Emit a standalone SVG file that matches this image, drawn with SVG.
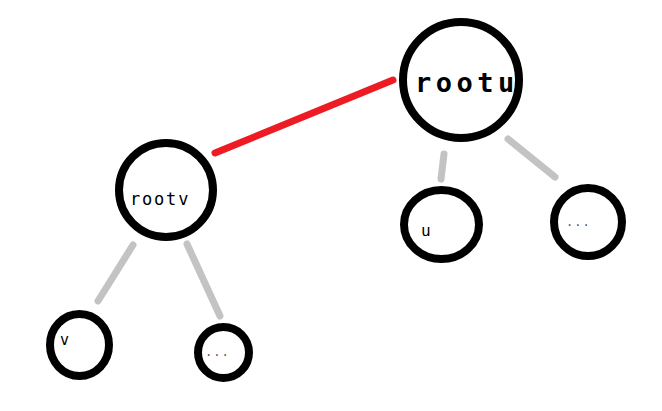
<svg xmlns="http://www.w3.org/2000/svg" width="662" height="411" viewBox="0 0 662 411">
<style>
.node{fill:#fff;stroke:#000;stroke-width:8}
.edge{stroke:#c3c3c3;stroke-width:7;stroke-linecap:round}
.red{stroke:#ed1c24;stroke-width:7;stroke-linecap:round}
text{font-family:"DejaVu Sans Mono","Liberation Mono",monospace;fill:#000}
</style>
<rect width="662" height="411" fill="#fff"/>
<g id="connectors">
<line class="red" x1="215" y1="153" x2="393" y2="80"/>
<line class="edge" x1="444" y1="154" x2="441" y2="179"/>
<line class="edge" x1="508" y1="139" x2="555" y2="177"/>
<line class="edge" x1="133" y1="245" x2="98" y2="301"/>
<line class="edge" x1="187" y1="244" x2="220" y2="316"/>
</g>
<g id="rootu">
<circle class="node" cx="461" cy="80" r="58"/>
<text x="415" y="92" font-size="27" font-weight="bold" letter-spacing="4.5">rootu</text>
</g>
<g id="rootv">
<circle class="node" cx="166" cy="190" r="47"/>
<text x="130" y="205" font-size="17" letter-spacing="1.8">rootv</text>
</g>
<g id="u">
<ellipse class="node" cx="441.5" cy="224.5" rx="37.5" ry="34.5"/>
<text x="421" y="236" font-size="16">u</text>
</g>
<g id="dots-u">
<circle class="node" cx="588" cy="222" r="34"/>
<text x="566" y="226" font-size="12" letter-spacing="1" fill-opacity="0.7">...</text>
</g>
<g id="v">
<ellipse class="node" cx="79.5" cy="345" rx="29.5" ry="31"/>
<text x="60" y="345" font-size="15">v</text>
</g>
<g id="dots-v">
<circle class="node" cx="223.5" cy="352.5" r="25.5"/>
<text x="205" y="356" font-size="12" letter-spacing="1" fill-opacity="0.7">...</text>
</g>
</svg>
